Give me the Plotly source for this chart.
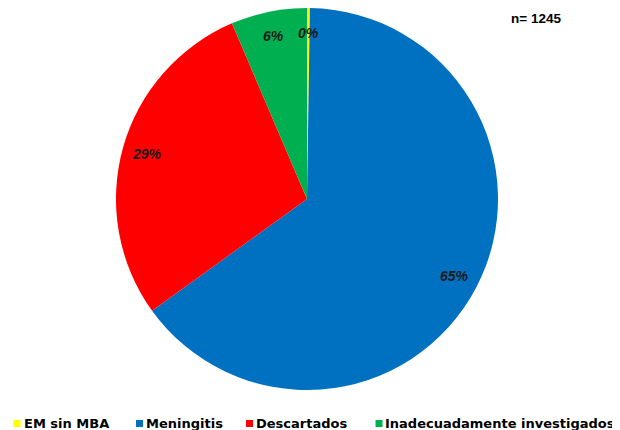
import math
import plotly.graph_objects as go

# ---- data ----
categories = ["EM sin MBA", "Meningitis", "Descartados", "Inadecuadamente investigados"]
values = [3, 807, 355, 80]
colors = ["#FFFF00", "#0070C0", "#FF0000", "#00B050"]
total_label = "n= 1245"

W, H = 620, 430
OFF = 8  # page body margin shift (screen px -> figure px)

def fx(px):
    return (px - OFF) / W

def fy(py):
    return 1 - (py - OFF) / H

# pie placement (screen pixels)
cx, cy, R = 307, 199, 191

fig = go.Figure(go.Pie(
    labels=categories,
    values=values,
    sort=False,
    direction="clockwise",
    rotation=0,
    marker=dict(colors=colors, line=dict(width=0)),
    textinfo="none",
    hoverinfo="label+value+percent",
    domain=dict(x=[fx(cx - R), fx(cx + R)], y=[fy(cy + R), fy(cy - R)]),
    showlegend=False,
))

annotations = []
shapes = []

# percentage labels near the rim, at each slice's mid angle
tot = sum(values)
cum = 0
for v in values:
    mid = (cum + v / 2) / tot
    cum += v
    th = 2 * math.pi * mid
    k = 0.87
    px = cx + k * R * math.sin(th)
    py = cy - k * R * math.cos(th)
    annotations.append(dict(
        x=fx(px), y=fy(py), xref="paper", yref="paper",
        text=f"<b><i>{round(v / tot * 100)}%</i></b>", showarrow=False,
        font=dict(family="Liberation Sans", size=14, color="#1a1a1a"),
        xanchor="center", yanchor="middle",
    ))

# total label
annotations.append(dict(
    x=fx(536), y=fy(18.5), xref="paper", yref="paper",
    text=f"<b>{total_label}</b>", showarrow=False,
    font=dict(family="Liberation Sans", size=13.5, color="#000000"),
    xanchor="center", yanchor="middle",
))

# legend (manual, bottom row)
sq_x = [13.5, 136, 246, 375.5]
for name, col, sx in zip(categories, colors, sq_x):
    shapes.append(dict(
        type="rect", xref="paper", yref="paper",
        x0=fx(sx), x1=fx(sx + 7), y0=fy(427), y1=fy(420),
        fillcolor=col, line=dict(width=0),
    ))
    annotations.append(dict(
        x=fx(sx + 8), y=fy(423.5), xref="paper", yref="paper",
        text=f"<b>{name}</b>", showarrow=False,
        font=dict(family="DejaVu Sans", size=13, color="#000000"),
        xanchor="left", yanchor="middle",
    ))

fig.update_layout(
    width=W, height=H,
    margin=dict(l=0, r=0, t=0, b=0),
    paper_bgcolor="white", plot_bgcolor="white",
    annotations=annotations, shapes=shapes,
)

fig.write_html("out.html")
